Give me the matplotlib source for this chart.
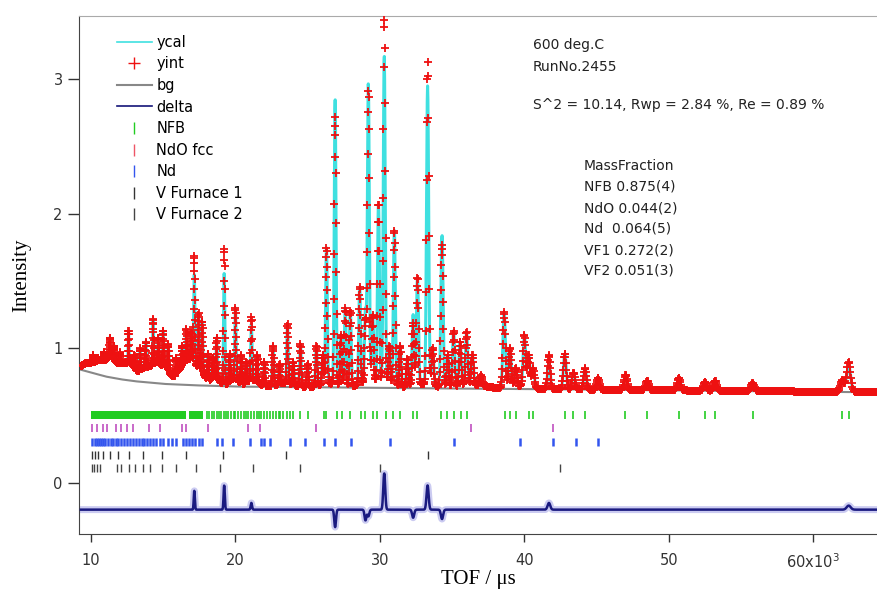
import numpy as np
import matplotlib
matplotlib.use("Agg")
import matplotlib.pyplot as plt
from matplotlib.lines import Line2D

# ---------------- data ----------------
# background (TOF in 10^3 us, intensity)
bg_tof = [9.3, 10, 11, 12, 13, 14, 15, 17, 20, 25, 30, 35, 40, 45, 50, 55, 60, 64.6]
bg_int = [0.84, 0.82, 0.79, 0.77, 0.755, 0.745, 0.735, 0.725, 0.715, 0.71, 0.705,
          0.70, 0.697, 0.692, 0.687, 0.682, 0.677, 0.672]

# broad envelopes of overlapping reflections: centre, width, height
hump_pos = [9.8, 10.6, 11.4, 12.2, 12.8, 13.7, 14.5, 15.2, 16.1, 16.8, 17.6, 18.6,
            19.9, 21.2, 23.5, 26.5, 29.5, 33.0, 36.5, 39.5]
hump_wid = [0.4, 0.35, 0.35, 0.3, 0.3, 0.35, 0.35, 0.3, 0.3, 0.4, 0.3, 0.3,
            0.3, 0.4, 0.5, 0.6, 0.8, 0.8, 0.8, 0.8]
hump_hgt = [0.06, 0.09, 0.15, 0.1, 0.11, 0.1, 0.14, 0.11, 0.07, 0.19, 0.1, 0.07,
            0.06, 0.05, 0.03, 0.03, 0.05, 0.03, 0.03, 0.02]

# Bragg peaks: position, calculated top, observed top
peak_pos = [10.15, 10.45, 10.9, 11.3, 11.6, 12.0, 12.6, 13.0, 13.4, 13.8, 14.3, 14.65,
            15.0, 15.35, 15.9, 16.3, 16.6, 16.95, 17.15, 17.45, 17.7, 18.1, 18.45, 18.7,
            19.22, 19.6, 20.0, 20.4, 20.75, 21.1, 21.5, 22.0, 22.6, 23.05, 23.6, 24.0,
            24.5, 25.0, 25.6, 26.05, 26.3, 26.9, 27.3, 27.6, 27.95, 28.6, 29.0, 29.2,
            29.5, 29.9, 30.3, 30.65, 31.0, 31.4, 31.9, 32.3, 32.6, 33.3, 33.65, 34.3,
            34.7, 35.1, 35.55, 36.0, 36.4, 37.0, 38.6, 39.0, 39.4, 40.0, 40.3, 40.6,
            41.7, 42.8, 43.4, 44.2, 45.1, 47.0, 48.5, 50.7, 52.5, 53.2, 55.8, 62.0, 62.45]
peak_cal = [0.95, 0.93, 0.97, 1.08, 1.02, 0.97, 1.13, 0.95, 1.0, 1.05, 1.22, 1.08,
            1.13, 1.03, 0.93, 1.02, 1.14, 1.12, 1.55, 1.26, 1.2, 0.96, 0.93, 1.08,
            1.56, 0.96, 1.30, 0.95, 0.9, 1.18, 0.95, 0.9, 1.02, 0.88, 1.18, 0.9,
            1.03, 0.88, 1.02, 0.95, 1.75, 2.85, 1.1, 1.30, 1.28, 1.46, 1.28, 2.97,
            1.25, 2.08, 3.18, 1.02, 1.88, 1.02, 0.92, 1.25, 1.53, 2.95, 1.0, 1.84,
            0.95, 1.13, 1.05, 1.12, 0.95, 0.8, 1.27, 1.0, 0.85, 1.1, 0.95, 0.85,
            0.9, 0.96, 0.82, 0.85, 0.78, 0.8, 0.76, 0.78, 0.75, 0.76, 0.74, 0.76, 0.87]
peak_obs = [0.95, 0.93, 0.97, 1.08, 1.02, 0.97, 1.13, 0.95, 1.0, 1.05, 1.22, 1.08,
            1.13, 1.03, 0.93, 1.02, 1.14, 1.12, 1.69, 1.26, 1.2, 0.96, 0.93, 1.08,
            1.74, 0.96, 1.30, 0.95, 0.9, 1.23, 0.95, 0.9, 1.02, 0.88, 1.18, 0.9,
            1.03, 0.88, 1.02, 0.95, 1.75, 2.72, 1.1, 1.30, 1.28, 1.46, 1.20, 2.92,
            1.25, 2.08, 3.45, 1.02, 1.88, 1.02, 0.92, 1.19, 1.53, 3.13, 1.0, 1.77,
            0.95, 1.13, 1.05, 1.12, 0.95, 0.8, 1.27, 1.0, 0.85, 1.1, 0.95, 0.85,
            0.95, 0.96, 0.82, 0.85, 0.78, 0.8, 0.76, 0.78, 0.75, 0.76, 0.74, 0.76, 0.9]

delta_offset = -0.2

# reflection marker rows
nfb_dense = [(10.0, 16.6), (16.8, 17.75)]
nfb_ticks = [18.0, 18.2, 18.35, 18.5, 18.7, 18.85, 19.0, 19.2, 19.35, 19.5, 19.7, 19.9,
             20.0, 20.2, 20.4, 20.6, 20.75, 20.9, 21.1, 21.3, 21.5, 21.6, 21.8, 22.0,
             22.2, 22.4, 22.6, 22.8, 23.0, 23.1, 23.3, 23.6, 23.8, 24.0, 24.5, 25.0,
             26.1, 26.3, 27.0, 27.4, 27.9, 28.7, 29.0, 29.5, 29.8, 30.4, 30.9, 31.4,
             32.3, 32.6, 34.25, 34.65, 35.15, 35.6, 36.0, 38.66, 39.0, 39.4, 40.3, 40.6,
             42.8, 43.4, 44.2, 46.96, 48.5, 50.7, 52.5, 53.2, 55.8, 62.0, 62.5]
ndo_ticks = [10.1, 10.4, 10.8, 11.1, 11.7, 12.1, 12.5, 12.9, 14.0, 14.8, 16.3, 16.6,
             18.1, 20.9, 21.7, 25.6, 36.3, 42.0]
nd_ticks = [10.1, 10.25, 10.4, 10.55, 10.7, 10.85, 11.0, 11.2, 11.4, 11.5, 11.7, 11.9,
            12.1, 12.3, 12.5, 12.7, 12.9, 13.1, 13.3, 13.5, 13.7, 13.9, 14.1, 14.3,
            14.5, 14.8, 15.0, 15.3, 15.6, 15.9, 16.4, 16.6, 16.8, 17.0, 17.2, 17.5,
            17.7, 18.7, 19.1, 19.85, 21.0, 21.8, 22.0, 22.4, 23.8, 24.8, 26.1, 26.9,
            28.0, 30.7, 35.15, 39.7, 42.0, 43.6, 45.1]
vf1_ticks = [10.05, 10.3, 10.5, 10.85, 11.3, 11.9, 12.6, 13.6, 14.9, 16.6, 19.15,
             23.5, 33.35]
vf2_ticks = [10.05, 10.2, 10.4, 10.6, 11.8, 12.1, 12.6, 13.05, 13.6, 14.1, 14.9, 15.9,
             17.3, 18.9, 21.2, 24.5, 30.0, 42.5]
row_levels = [0.503, 0.404, 0.305, 0.206, 0.107]

# ---------------- build profiles ----------------
tof = np.geomspace(9.3, 64.6, 2800)
bg = np.interp(tof, bg_tof, bg_int)
env = np.zeros_like(tof)
for c, w, h in zip(hump_pos, hump_wid, hump_hgt):
    env += h * np.exp(-0.5 * ((tof - c) / w) ** 2)
base_at_peaks = np.interp(peak_pos, bg_tof, bg_int)
env_at_peaks = np.array([sum(h * np.exp(-0.5 * ((p - c) / w) ** 2)
                             for c, w, h in zip(hump_pos, hump_wid, hump_hgt))
                         for p in peak_pos])
ycal = bg + env
yint = bg + env
for p, hc, ho, b, e in zip(peak_pos, peak_cal, peak_obs, base_at_peaks, env_at_peaks):
    s = 0.0022 * p
    g = np.exp(-0.5 * ((tof - p) / s) ** 2)
    ycal += max(hc - b - e, 0) * g
    yint += max(ho - b - e, 0) * g
delta = yint - ycal + delta_offset

# ---------------- figure ----------------
fig = plt.figure(figsize=(8.78, 5.90), dpi=100)
ax = fig.add_axes([79.3 / 878, 1 - 534 / 590, 1 - 79.3 / 878, (534 - 15.7) / 590])

ax.plot(tof, ycal, color="#3fe0e0", lw=2.2, zorder=2)
ax.plot(tof, bg, color="#888888", lw=1.5, zorder=1)
ax.plot(tof, yint, ls="none", marker="+", ms=6.2, mew=1.3, color="#ee1111", zorder=3)
ax.plot(tof, delta, color="#6a6ad8", lw=5, alpha=0.35, zorder=2)
ax.plot(tof, delta, color="#1a1a80", lw=1.8, zorder=3)

hh = 0.03
colors = ["#22cc22", "#c050c0", "#3355ee", "#333333", "#444444"]
ax.broken_barh([(a, b - a) for a, b in nfb_dense], (row_levels[0] - hh, 2 * hh),
               facecolors=colors[0])
ax.vlines(nfb_ticks, row_levels[0] - hh, row_levels[0] + hh, color=colors[0], lw=1.2)
ax.vlines(ndo_ticks, row_levels[1] - hh, row_levels[1] + hh, color=colors[1], lw=1.2)
ax.vlines(nd_ticks, row_levels[2] - hh, row_levels[2] + hh, color=colors[2], lw=1.8)
ax.vlines(vf1_ticks, row_levels[3] - hh, row_levels[3] + hh, color=colors[3], lw=1.0)
ax.vlines(vf2_ticks, row_levels[4] - hh, row_levels[4] + hh, color=colors[4], lw=1.0)

ax.set_xlim(9.19, 64.48)
ax.set_ylim(-0.381, 3.472)
ax.set_xticks([10, 20, 30, 40, 50, 60])
ax.set_xticklabels(["10", "20", "30", "40", "50", "60x10$^{3}$"])
ax.set_yticks([0, 1, 2, 3])
ax.tick_params(axis="y", direction="out", length=8, width=1, labelsize=10.5, pad=4,
               colors="#333333")
ax.tick_params(axis="x", direction="out", length=5.5, width=1, labelsize=10.5, pad=8,
               colors="#333333")
for sp in ["left", "bottom"]:
    ax.spines[sp].set_color("#444444")
ax.spines["top"].set_color("#aaaaaa")
ax.spines["right"].set_visible(False)

ax.set_xlabel("TOF / \u03bcs", family="Liberation Serif", fontsize=15, labelpad=-1)
ax.set_ylabel("Intensity", family="Liberation Serif", fontsize=15, labelpad=16)

handles = [
    Line2D([], [], color="#3fe0e0", lw=1.2),
    Line2D([], [], color="#ee1111", ls="none", marker="+", ms=9, mew=1.0),
    Line2D([], [], color="#888888", lw=1.5),
    Line2D([], [], color="#141478", lw=1.2),
    Line2D([], [], color=colors[0], ls="none", marker="|", ms=8),
    Line2D([], [], color="#ee5566", ls="none", marker="|", ms=8),
    Line2D([], [], color=colors[2], ls="none", marker="|", ms=8),
    Line2D([], [], color=colors[3], ls="none", marker="|", ms=8),
    Line2D([], [], color=colors[4], ls="none", marker="|", ms=8),
]
labels = ["ycal", "yint", "bg", "delta", "NFB", "NdO fcc", "Nd", "V Furnace 1",
          "V Furnace 2"]
ax.legend(handles, labels, loc="upper left", bbox_to_anchor=(0.047, 0.963),
          frameon=False, fontsize=10.5, borderpad=0, borderaxespad=0,
          handlelength=2.4, handletextpad=0.3, labelspacing=0.45)

tk = dict(fontsize=10, color="#222222", va="center", ha="left")
fig.text(533 / 878, 1 - 45 / 590, "600 deg.C", **tk)
fig.text(533 / 878, 1 - 67 / 590, "RunNo.2455", **tk)
fig.text(533 / 878, 1 - 105 / 590, "S^2 = 10.14, Rwp = 2.84 %, Re = 0.89 %", **tk)
mf = ["MassFraction", "NFB 0.875(4)", "NdO 0.044(2)", "Nd  0.064(5)",
      "VF1 0.272(2)", "VF2 0.051(3)"]
for i, s in enumerate(mf):
    fig.text(584 / 878, 1 - (166 + 21 * i) / 590, s, **tk)

fig.savefig("out.png", dpi=100)
